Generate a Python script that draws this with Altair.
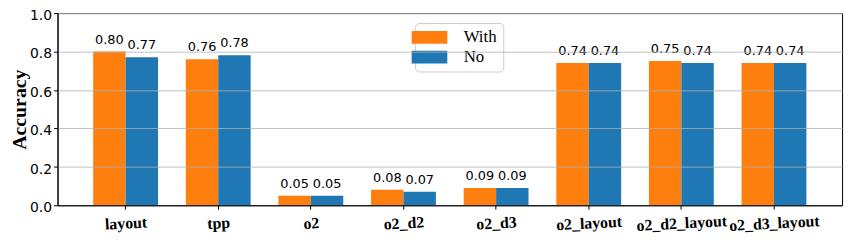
import altair as alt
import pandas as pd

categories = ["layout", "tpp", "o2", "o2_d2", "o2_d3", "o2_layout", "o2_d2_layout", "o2_d3_layout"]
series = ["With", "No"]
with_vals = [0.80, 0.76, 0.05, 0.08, 0.09, 0.74, 0.75, 0.74]
no_vals = [0.77, 0.78, 0.05, 0.07, 0.09, 0.74, 0.74, 0.74]
colors = ["#ff7f0e", "#1f77b4"]
y_ticks = [0.0, 0.2, 0.4, 0.6, 0.8, 1.0]

rows = []
for c, w, n in zip(categories, with_vals, no_vals):
    rows.append({"category": c, "series": "With", "value": w})
    rows.append({"category": c, "series": "No", "value": n})
df = pd.DataFrame(rows)

x_enc = alt.X(
    "category:N",
    sort=categories,
    scale=alt.Scale(paddingInner=0.3, paddingOuter=0.385),
    axis=alt.Axis(
        title=None,
        labelAngle=357,
        labelAlign="center",
        labelBaseline="top",
        labelFont="Liberation Serif",
        labelFontWeight="bold",
        labelFontSize=16,
        labelColor="black",
        labelPadding=6,
        labelOverlap=False,
        tickSize=4,
        tickColor="black",
        domainColor="black",
        grid=False,
        zindex=1,
    ),
)
xoff_enc = alt.XOffset("series:N", sort=series, scale=alt.Scale(paddingInner=0, paddingOuter=0))
y_enc = alt.Y(
    "value:Q",
    scale=alt.Scale(domain=[0, 1], nice=False, zero=True),
    axis=alt.Axis(
        title="Accuracy",
        titleFont="Liberation Serif",
        titleFontWeight="bold",
        titleFontSize=20,
        titleColor="black",
        titlePadding=0,
        values=y_ticks,
        tickCount=6,
        labelOverlap=False,
        format=".1f",
        labelFont="DejaVu Sans",
        labelFontSize=14,
        labelColor="black",
        labelPadding=2,
        labelOffset=2.5,
        tickSize=4,
        tickColor="black",
        domainColor="black",
        grid=True,
        gridColor="#b0b0b0",
        gridWidth=0.8,
        zindex=1,
    ),
)

bars = alt.Chart(df).mark_bar().encode(
    x=x_enc,
    xOffset=xoff_enc,
    y=y_enc,
    color=alt.Color(
        "series:N",
        sort=series,
        scale=alt.Scale(domain=series, range=colors),
        legend=alt.Legend(
            title=None,
            orient="none",
            legendX=361,
            legendY=10,
            direction="vertical",
            symbolType="M-2.77,-1H2.77V1H-2.77Z",
            symbolSize=169,
            symbolStrokeWidth=0,
            symbolOpacity=1,
            labelFont="Liberation Serif",
            labelFontSize=17,
            labelColor="black",
            labelOffset=26,
            rowPadding=2,
            padding=6,
            fillColor="white",
            strokeColor="#cccccc",
            cornerRadius=4,
        ),
    ),
)

labels = alt.Chart(df).mark_text(
    baseline="alphabetic", align="center", dy=-8, font="DejaVu Sans", fontSize=13, color="black"
).encode(
    x=x_enc,
    xOffset=xoff_enc,
    y=y_enc,
    text=alt.Text("value:Q", format=".2f"),
)

chart = (
    alt.layer(bars, labels)
    .properties(
        width=792,
        height=194,
        padding={"left": 50, "top": 4, "right": 6, "bottom": 38},
        autosize=alt.AutoSizeParams(type="none"),
    )
    .configure_view(stroke="black", strokeWidth=1)
)

chart.save("out.html", embed_options={"renderer": "svg", "actions": False})
